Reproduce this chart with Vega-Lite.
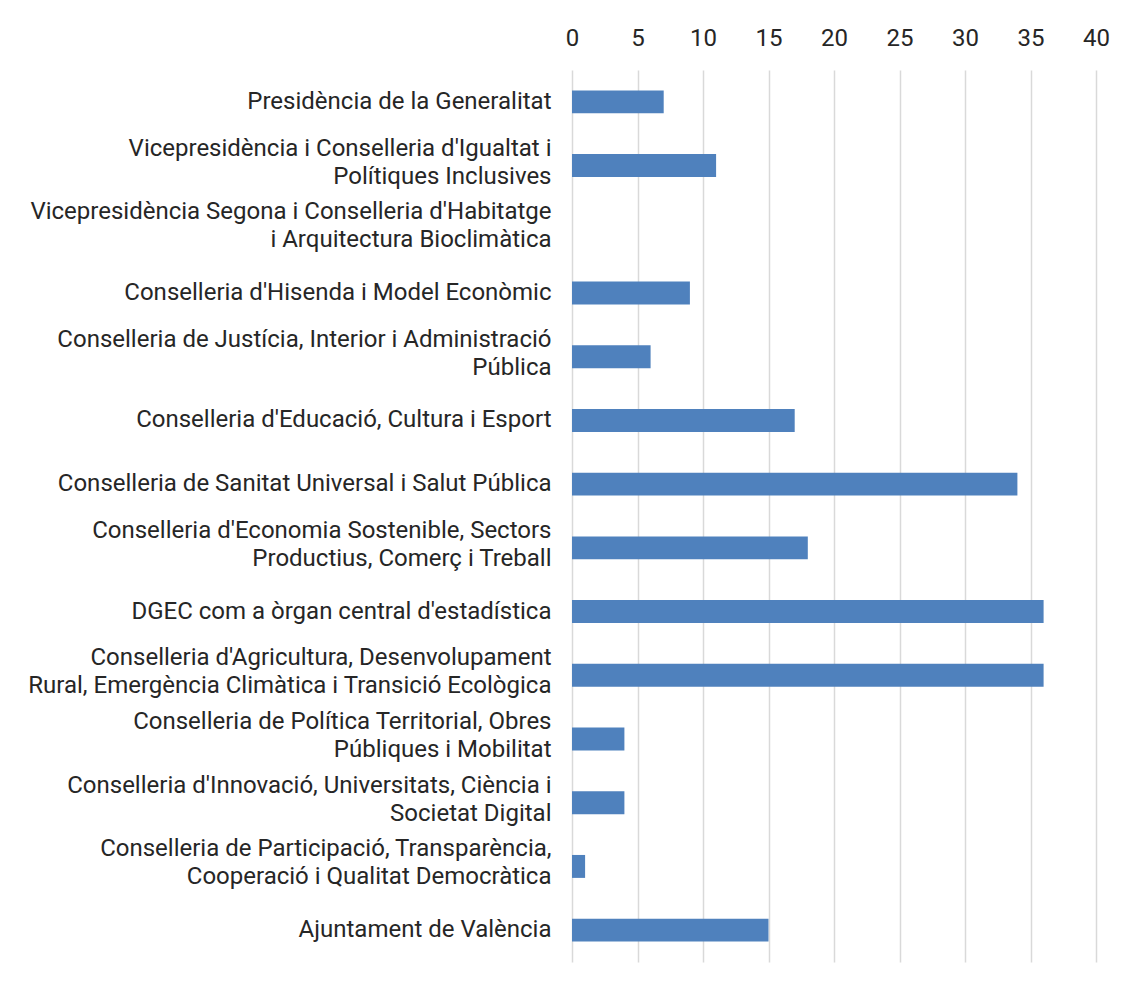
{
  "$schema": "https://vega.github.io/schema/vega-lite/v6.json",
  "width": 524,
  "height": 892,
  "autosize": {"type": "none"},
  "padding": {"left": 572, "top": 70, "right": 34, "bottom": 21},
  "background": "white",
  "config": {"view": {"stroke": null}},
  "data": {
    "values": [
      {"organ": "Presidència de la Generalitat", "valor": 7},
      {"organ": "Vicepresidència i Conselleria d'Igualtat i|Polítiques Inclusives", "valor": 11},
      {"organ": "Vicepresidència Segona i Conselleria d'Habitatge|i Arquitectura Bioclimàtica", "valor": 0},
      {"organ": "Conselleria d'Hisenda i Model Econòmic", "valor": 9},
      {"organ": "Conselleria de Justícia, Interior i Administració|Pública", "valor": 6},
      {"organ": "Conselleria d'Educació, Cultura i Esport", "valor": 17},
      {"organ": "Conselleria de Sanitat Universal i Salut Pública", "valor": 34},
      {"organ": "Conselleria d'Economia Sostenible, Sectors|Productius, Comerç i Treball", "valor": 18},
      {"organ": "DGEC com a òrgan central d'estadística", "valor": 36},
      {"organ": "Conselleria d'Agricultura, Desenvolupament|Rural, Emergència Climàtica i Transició Ecològica", "valor": 36},
      {"organ": "Conselleria de Política Territorial, Obres|Públiques i Mobilitat", "valor": 4},
      {"organ": "Conselleria d'Innovació, Universitats, Ciència i|Societat Digital", "valor": 4},
      {"organ": "Conselleria de Participació, Transparència,|Cooperació i Qualitat Democràtica", "valor": 1},
      {"organ": "Ajuntament de València", "valor": 15}
    ]
  },
  "mark": {"type": "bar", "color": "#4f81bd"},
  "encoding": {
    "y": {
      "field": "organ",
      "type": "nominal",
      "sort": null,
      "scale": {"paddingInner": 0.64, "paddingOuter": 0.32},
      "axis": {
        "title": null,
        "ticks": false,
        "domain": false,
        "grid": false,
        "labelExpr": "split(datum.label, '|')",
        "labelFont": "Roboto",
        "labelFontSize": 24,
        "labelColor": "#262626",
        "labelPadding": 21,
        "labelLimit": 600,
        "labelLineHeight": 28,
        "labelOffset": {"condition": {"test": "indexof(datum.value, '|') >= 0", "value": -17}, "value": 0}
      }
    },
    "x": {
      "field": "valor",
      "type": "quantitative",
      "scale": {"domain": [0, 40], "nice": false},
      "axis": {
        "orient": "top",
        "title": null,
        "values": [0, 5, 10, 15, 20, 25, 30, 35, 40],
        "ticks": false,
        "domain": false,
        "grid": true,
        "gridColor": "#d9d9d9",
        "gridWidth": 1.5,
        "labelFont": "Roboto",
        "labelFontSize": 24,
        "labelColor": "#262626",
        "labelPadding": 20,
        "labelFlush": false
      }
    }
  }
}
